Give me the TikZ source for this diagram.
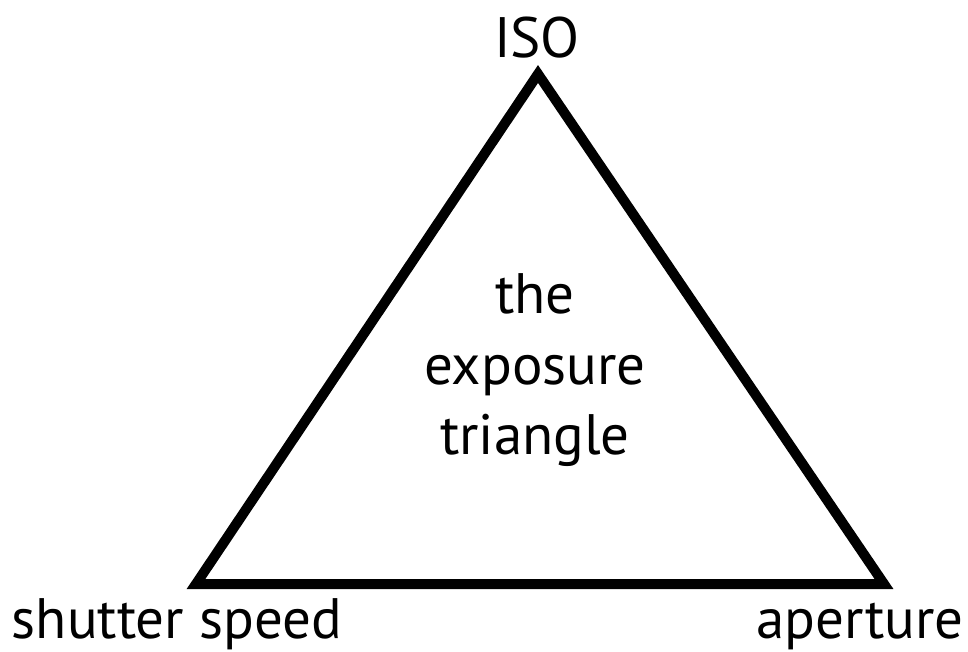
\documentclass[tikz,border=0pt]{standalone}
\usepackage{fontspec}
\setmainfont{PT Sans}
\usetikzlibrary{positioning}
\tikzset{
SIDE/.style ={draw=black,line join=miter,line cap=butt,miter limit=10.00,line width=10pt},
LABEL/.style={inner sep=0pt, anchor=base, font=\fontsize{57}{70}\selectfont},
}
\begin{document}
\begin{tikzpicture}
[x=1pt, y=-1pt]
	\useasboundingbox (0,0) rectangle (968,652);
	\coordinate (iso) at (538,74);
	\coordinate (shutter) at (196,584);
	\coordinate (aperture) at (884,584);
	\path[SIDE] (iso) -- (shutter) -- (aperture) -- cycle;
	\node[LABEL] (isotext) at (537,58) {ISO};
	\node[LABEL] (shuttertext) at (177,638) {shutter speed};
	\node[LABEL] (aperturetext) at (860,638) {aperture};
	\node[LABEL] (the) at (535,313) {the};
	\node[LABEL] (exposure) at (535,384) {exposure};
	\node[LABEL] (triangle) at (535,454) {triangle};
\end{tikzpicture}
\end{document}
